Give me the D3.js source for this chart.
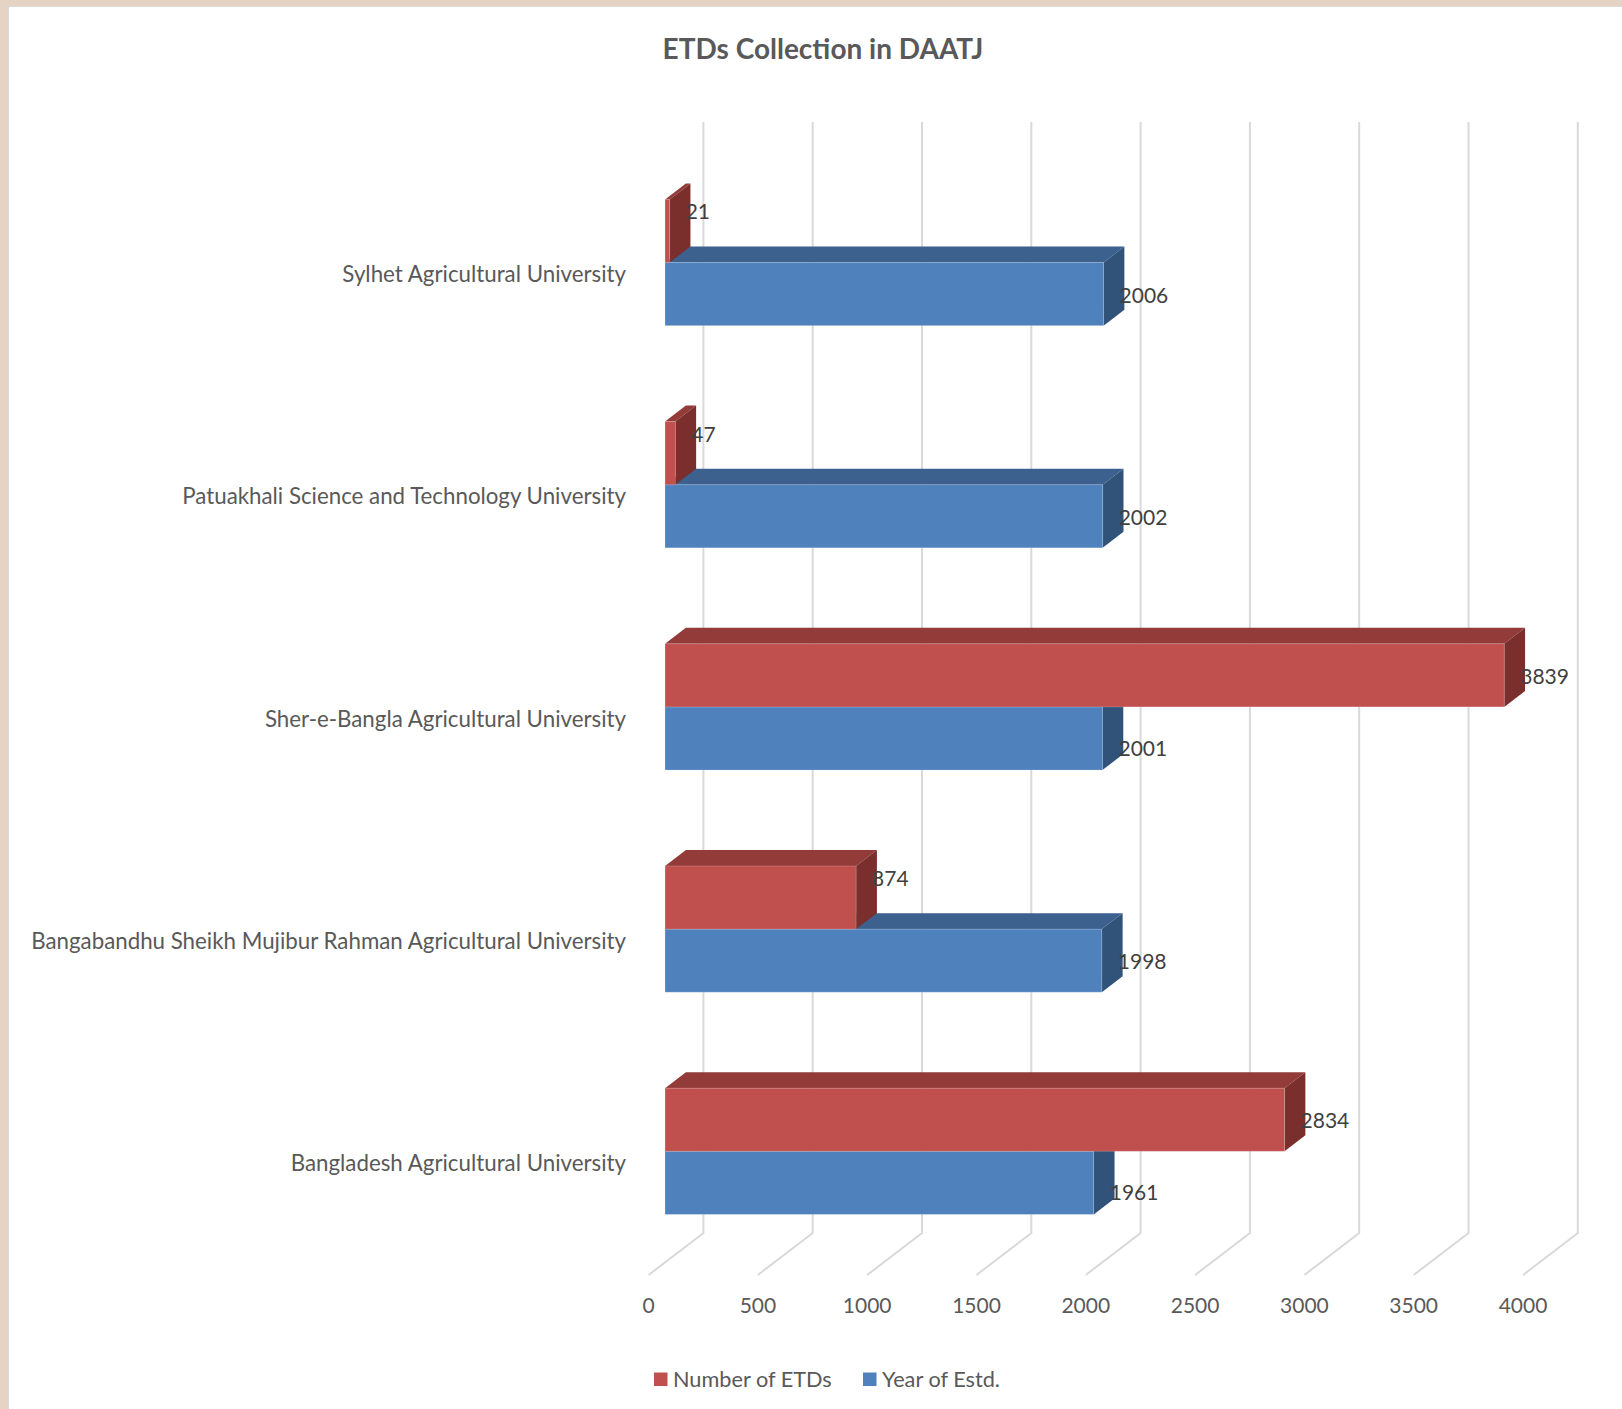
<!DOCTYPE html>
<html>
<head>
<meta charset="utf-8">
<script src="https://cdn.jsdelivr.net/npm/d3@7/dist/d3.min.js"></script>
<style>
  html, body { margin: 0; padding: 0; background: #ffffff; }
  svg { display: block; }
  text { font-family: Lato, "Open Sans", sans-serif; }
</style>
</head>
<body>
<script>
// ---------- data ----------
const categories = [
  "Bangladesh Agricultural University",
  "Bangabandhu Sheikh Mujibur Rahman Agricultural University",
  "Sher-e-Bangla Agricultural University",
  "Patuakhali Science and Technology University",
  "Sylhet Agricultural University"
];
const numberOfETDs = [2834, 874, 3839, 47, 21];
const yearOfEstd   = [1961, 1998, 2001, 2002, 2006];
const xTicks = [0, 500, 1000, 1500, 2000, 2500, 3000, 3500, 4000];
const seriesNames = ["Number of ETDs", "Year of Estd."];
const chartTitle = "ETDs Collection in DAATJ";

// ---------- layout ----------
const W = 1622, H = 1409;
const frontX0 = 648.6;           // x of value 0 on the front of the floor
const plotTop = 164, plotBottom = 1275;  // front-plane vertical extent
const depthDX = 54.8, depthDY = -42;     // full depth offset of the 3D box
const barD0 = 0.30, barD1 = 0.68;        // depth span of the bars

const colors = {
  etds: { front: "#C0504D", top: "#933B39", side: "#7A2F2D" },
  year: { front: "#4F81BD", top: "#3C618F", side: "#31537A" }
};

const svg = d3.select("body").append("svg").attr("width", W).attr("height", H);
svg.append("rect").attr("width", W).attr("height", H).attr("fill", "#ffffff");

// frame
svg.append("rect").attr("x", 0).attr("y", 0).attr("width", W).attr("height", 6).attr("fill", "#E5D4C3");
svg.append("rect").attr("x", 0).attr("y", 0).attr("width", 8).attr("height", H).attr("fill", "#E5D4C3");
svg.append("line").attr("x1", 8).attr("x2", W).attr("y1", 6.5).attr("y2", 6.5).attr("stroke", "#d9d9d9").attr("stroke-width", 1.2);
svg.append("line").attr("x1", 8.5).attr("x2", 8.5).attr("y1", 6).attr("y2", H).attr("stroke", "#d9d9d9").attr("stroke-width", 1.2);

// scales
const x = d3.scaleLinear().domain([0, 4000]).range([0, 874.4]);
const y0 = d3.scaleBand().domain(categories.slice().reverse()).range([plotTop, plotBottom]).padding(0);
const y1 = d3.scaleBand().domain(["etds", "year"]).range([0, y0.bandwidth()]).paddingInner(0).paddingOuter(0.76);

// title
svg.append("text")
  .attr("x", 823).attr("y", 48)
  .attr("text-anchor", "middle").attr("dominant-baseline", "central")
  .attr("font-size", 28).attr("font-weight", "bold").attr("fill", "#595959")
  .text(chartTitle);

// gridlines: back wall verticals + floor diagonals
const grid = svg.append("g").attr("stroke", "#D9D9D9").attr("stroke-width", 2).attr("fill", "none");
xTicks.forEach(t => {
  const fx = frontX0 + x(t);
  const bx = fx + depthDX;
  grid.append("path").attr("d",
    `M${bx},${plotTop + depthDY} L${bx},${plotBottom + depthDY} L${fx},${plotBottom}`);
});

// tick labels
svg.append("g").selectAll("text").data(xTicks).join("text")
  .attr("x", d => frontX0 + x(d)).attr("y", 1304)
  .attr("text-anchor", "middle").attr("dominant-baseline", "central")
  .attr("font-size", 21).attr("fill", "#595959")
  .text(d => d);

// category axis
const catAxis = d3.axisLeft(y0).tickSize(0).tickPadding(0);
const cg = svg.append("g").attr("transform", `translate(626,0)`).call(catAxis);
cg.select(".domain").remove();
cg.selectAll("text").attr("font-size", 22.3).attr("fill", "#595959")
  .attr("font-family", "Lato, 'Open Sans', sans-serif");

// bars
const ox0 = depthDX * barD0, oy0 = depthDY * barD0;
const ox1 = depthDX * barD1, oy1 = depthDY * barD1;

function drawBar(g, cat, key, v, col) {
  const t = y0(cat) + y1(key), b = t + y1.bandwidth();
  const xs = frontX0 + x(0), xe = frontX0 + x(v);
  // top face
  g.append("polygon").attr("points", [
    [xs + ox0, t + oy0], [xe + ox0, t + oy0], [xe + ox1, t + oy1], [xs + ox1, t + oy1]
  ].map(p => p.join(",")).join(" ")).attr("fill", col.top);
  // side face
  g.append("polygon").attr("points", [
    [xe + ox0, t + oy0], [xe + ox1, t + oy1], [xe + ox1, b + oy1], [xe + ox0, b + oy0]
  ].map(p => p.join(",")).join(" ")).attr("fill", col.side);
  // front face
  g.append("rect").attr("x", xs + ox0).attr("y", t + oy0)
    .attr("width", xe - xs).attr("height", b - t).attr("fill", col.front)
    .attr("stroke", "rgba(255,255,255,0.18)").attr("stroke-width", 1);
  return { xe: xe + ox0, cy: (t + b) / 2 + oy0 };
}

const barsG = svg.append("g");
const labelData = [];
categories.forEach((cat, i) => {
  const g = barsG.append("g");
  const ry = drawBar(g, cat, "year", yearOfEstd[i], colors.year);
  const re = drawBar(g, cat, "etds", numberOfETDs[i], colors.etds);
  labelData.push({ x: re.xe + 16, y: re.cy + (numberOfETDs[i] < yearOfEstd[i] ? -20 : 0), t: numberOfETDs[i] });
  labelData.push({ x: ry.xe + 16, y: ry.cy + (numberOfETDs[i] > yearOfEstd[i] ? 9 : 0), t: yearOfEstd[i] });
});

svg.append("g").selectAll("text").data(labelData).join("text")
  .attr("x", d => d.x).attr("y", d => d.y)
  .attr("dominant-baseline", "central")
  .attr("font-size", 21).attr("fill", "#404040")
  .text(d => d.t);

// legend
const legend = svg.append("g");
const legendItems = [
  { name: seriesNames[0], color: colors.etds.front, x: 654 },
  { name: seriesNames[1], color: colors.year.front, x: 863 }
];
legendItems.forEach(it => {
  legend.append("rect").attr("x", it.x).attr("y", 1372.5).attr("width", 13.5).attr("height", 13.5).attr("fill", it.color);
  legend.append("text").attr("x", it.x + 19).attr("y", 1379)
    .attr("dominant-baseline", "central").attr("font-size", 21.7).attr("fill", "#595959")
    .text(it.name);
});
</script>
</body>
</html>
